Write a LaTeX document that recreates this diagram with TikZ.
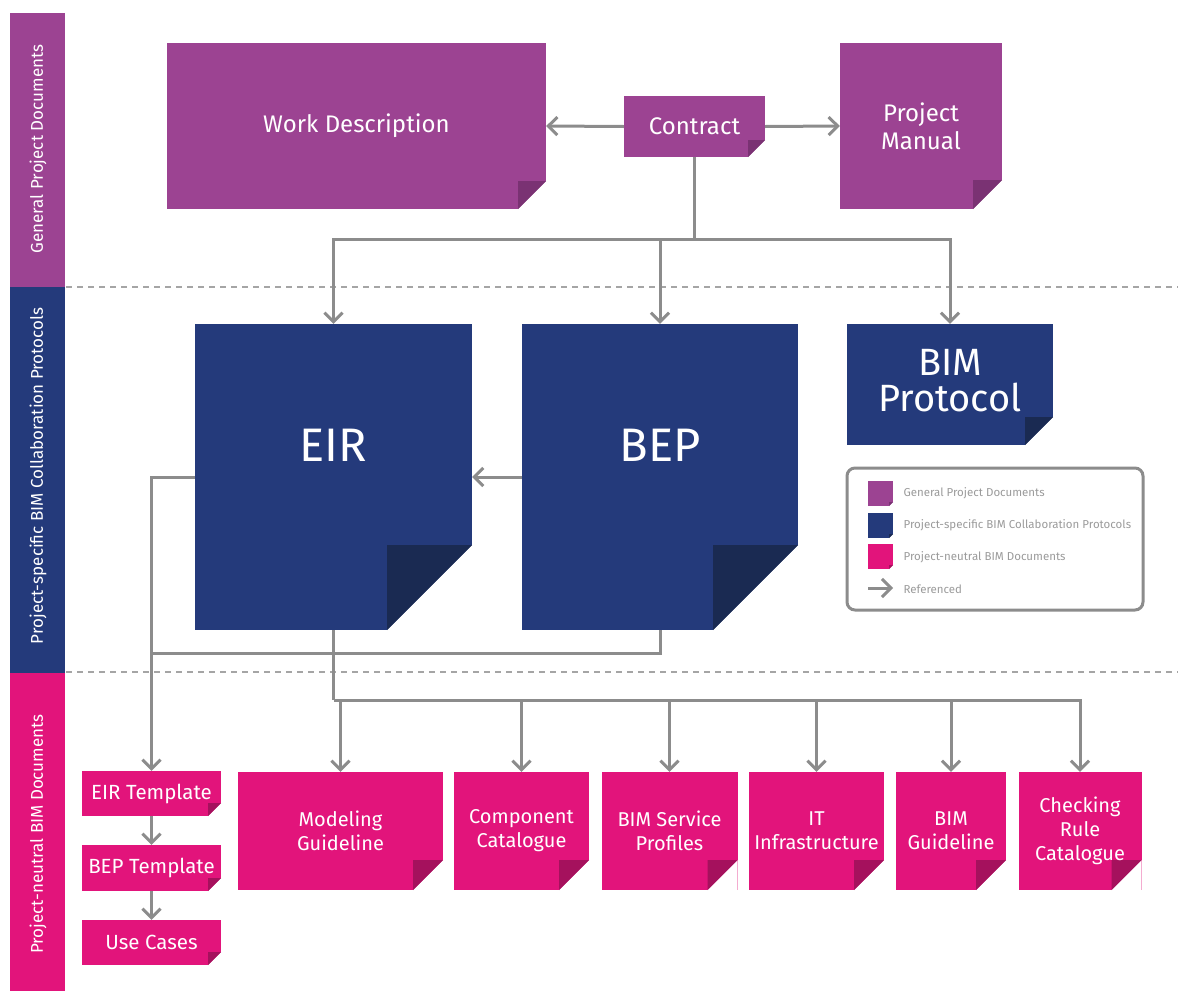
\documentclass[tikz,border=0pt]{standalone}
\usepackage{fontspec}
\setmainfont{Fira Sans}
\usetikzlibrary{arrows.meta}

\definecolor{gpdcol}{HTML}{9C4392}
\definecolor{gpdfold}{HTML}{7A3273}
\definecolor{pbccol}{HTML}{243A7B}
\definecolor{pbcfold}{HTML}{1A2A52}
\definecolor{pnbcol}{HTML}{E2147B}
\definecolor{pnbfold}{HTML}{A5115D}
\definecolor{linegray}{HTML}{8C8C8C}
\definecolor{dashgray}{HTML}{A5A5A5}
\definecolor{legendgray}{HTML}{9A9A9A}

\begin{document}
\begin{tikzpicture}[x=1pt,y=-1pt,
  foldsize/.initial=20pt, foldfill/.initial=black,
  doc/.style={rectangle, inner sep=0pt, text=white, align=center,
    path picture={
      \fill[white] (path picture bounding box.south east)
        -- ++(0pt,\pgfkeysvalueof{/tikz/foldsize})
        -- ++(-\pgfkeysvalueof{/tikz/foldsize},-\pgfkeysvalueof{/tikz/foldsize}) -- cycle;
      \fill[\pgfkeysvalueof{/tikz/foldfill}]
        ([yshift=\pgfkeysvalueof{/tikz/foldsize}]path picture bounding box.south east)
        -- ++(-\pgfkeysvalueof{/tikz/foldsize},0pt)
        -- ++(0pt,-\pgfkeysvalueof{/tikz/foldsize}) -- cycle;}},
  gpd/.style={doc, fill=gpdcol, foldfill=gpdfold},
  pbc/.style={doc, fill=pbccol, foldfill=pbcfold},
  pnb/.style={doc, fill=pnbcol, foldfill=pnbfold},
  topfont/.style={font=\fontsize{24}{28}\selectfont},
  bigfont/.style={font=\fontsize{47}{50}\selectfont},
  protfont/.style={font=\fontsize{38}{36}\selectfont},
  pnbfont/.style={font=\fontsize{20}{24}\selectfont},
  smallfont/.style={font=\fontsize{20.5}{24}\selectfont},
  bandtext/.style={rotate=90, text=white, font=\fontsize{17}{20}\selectfont},
  legendtext/.style={anchor=west, text=legendgray, font=\fontsize{11.5}{14}\selectfont},
  line/.style={draw=linegray, line width=3pt},
  ref/.style={line, -{Straight Barb[length=9pt,width=18pt]}},
  separator/.style={draw=dashgray, line width=2pt, dash pattern=on 6pt off 5pt}]

  \useasboundingbox (0,0) rectangle (1178,991);

  % side bands
  \fill[gpdcol] (10,13) rectangle (65,287);
  \fill[pbccol] (10,287) rectangle (65,673);
  \fill[pnbcol] (10,673) rectangle (65,991);
  \node[bandtext] (bandgpd) at (38,149) {General Project Documents};
  \node[bandtext] (bandpbc) at (38,476) {Project-specific BIM Collaboration Protocols};
  \node[bandtext] (bandpnb) at (38,834) {Project-neutral BIM Documents};
  \draw[separator] (66,287) -- (1178,287);
  \draw[separator] (66,672) -- (1178,672);

  \node[gpd, topfont, minimum width=379pt, minimum height=166pt, foldsize=28pt]
    (wd) at (356.5,126) {Work Description};
  \node[gpd, topfont, minimum width=141pt, minimum height=61pt, foldsize=17pt]
    (contract) at (694.5,126.5) {Contract};
  \node[gpd, topfont, minimum width=162pt, minimum height=166pt, foldsize=29pt]
    (pm) at (921,126) {Project\\Manual};

  \node[pbc, minimum width=277pt, minimum height=306pt, foldsize=85pt,
    label={[bigfont, text=white, yshift=32pt]center:EIR}] (eir) at (333.5,477) {};
  \node[pbc, minimum width=276pt, minimum height=306pt, foldsize=85pt,
    label={[bigfont, text=white, yshift=32pt]center:BEP}] (bep) at (660,477) {};
  \node[pbc, minimum width=206pt, minimum height=121pt, foldsize=28pt,
    label={[protfont, text=white, align=center, yshift=4pt]center:BIM\\Protocol}]
    (bimp) at (950,384.5) {};

  \node[pnb, smallfont, minimum width=139pt, minimum height=45pt, foldsize=13pt]
    (eirt) at (151.5,793.5) {EIR Template};
  \node[pnb, smallfont, minimum width=139pt, minimum height=46pt, foldsize=13pt]
    (bept) at (151.5,868) {BEP Template};
  \node[pnb, smallfont, minimum width=139pt, minimum height=45pt, foldsize=13pt]
    (uc) at (151.5,942.5) {Use Cases};

  \node[pnb, pnbfont, minimum width=205pt, minimum height=118pt, foldsize=30pt]
    (mg) at (340.5,831) {Modeling\\Guideline};
  \node[pnb, pnbfont, minimum width=135pt, minimum height=118pt, foldsize=30pt]
    (cc) at (521.5,831) {Component\\Catalogue};
  \node[pnb, pnbfont, minimum width=136pt, minimum height=118pt, foldsize=30pt]
    (bsp) at (669.5,831) {BIM Service\\Profiles};
  \node[pnb, pnbfont, minimum width=135pt, minimum height=118pt, foldsize=30pt]
    (it) at (816.5,831) {IT\\Infrastructure};
  \node[pnb, pnbfont, minimum width=110pt, minimum height=118pt, foldsize=30pt]
    (bg) at (951,831) {BIM\\Guideline};
  \node[pnb, pnbfont, minimum width=123pt, minimum height=118pt, foldsize=30pt]
    (crc) at (1080,831) {Checking\\Rule\\Catalogue};

  % references
  \draw[ref] (contract.west) -- (wd.east);
  \draw[ref] (contract.east) -- (pm.west);
  \coordinate (split1) at (contract.south |- 0,239);
  \draw[line] (contract.south) -- (split1);
  \foreach \t in {eir,bep,bimp}
    \draw[ref] (split1) -| (\t.north);

  \draw[ref] (bep.west) -- (eir.east);
  \draw[ref] (eir.west) -| (eirt.north);
  \draw[line] (bep.south) |- (eirt.north |- 0,653);
  \draw[ref] (eirt.south) -- (bept.north);
  \draw[ref] (bept.south) -- (uc.north);

  \coordinate (split2) at (eir.south |- 0,700);
  \draw[line] (eir.south) -- (split2);
  \foreach \t in {mg,cc,bsp,it,bg,crc}
    \draw[ref] (split2) -| (\t.north);

  % legend
  \draw[draw=linegray, line width=3pt, rounded corners=8pt] (847,468) rectangle (1143,610);
  \node[gpd, minimum size=25pt, foldsize=4pt] (keygpd) at (880.5,493.5) {};
  \node[pbc, minimum size=25pt, foldsize=4pt] (keypbc) at (880.5,525.5) {};
  \node[pnb, minimum size=25pt, foldsize=4pt] (keypnb) at (880.5,556.5) {};
  \coordinate (keyfrom) at (868,588);
  \coordinate (keyto) at (893,588);
  \draw[ref] (keyfrom) -- (keyto);
  \node[legendtext] (lgpd) at (900,493) {General Project Documents};
  \node[legendtext] (lpbc) at (900,525) {Project-specific BIM Collaboration Protocols};
  \node[legendtext] (lpnb) at (900,557) {Project-neutral BIM Documents};
  \node[legendtext] (lref) at (900,589) {Referenced};
\end{tikzpicture}
\end{document}
